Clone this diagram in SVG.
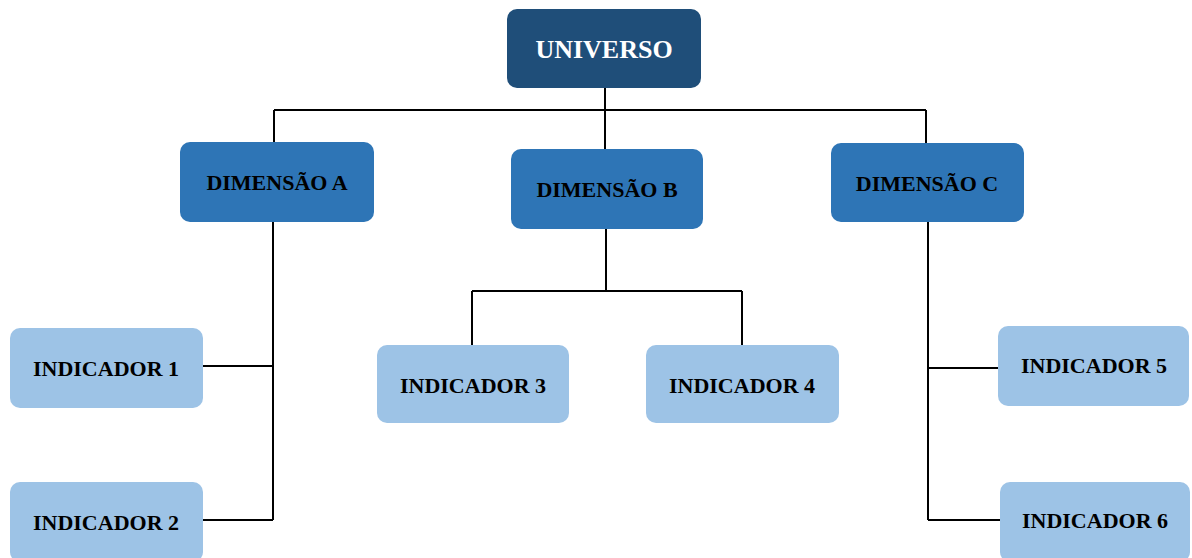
<svg xmlns="http://www.w3.org/2000/svg" width="1192" height="558" viewBox="0 0 1192 558">
<style>
.t{font-family:"Liberation Serif","Times New Roman",serif;font-weight:bold;text-anchor:middle}
.lbl{font-size:22px;fill:#000}
.top{font-size:26px;fill:#fff}
.u{fill:#1f4e79}
.d{fill:#2e75b6}
.i{fill:#9dc3e6}
.c{fill:none;stroke:#000;stroke-width:2}
</style>
<rect width="1192" height="558" fill="#fff"/>
<g id="connectors">
<path class="c" d="M605 88V110M274 110H926M274 110V142M605 110V149M926 110V143"/>
<path class="c" d="M273 222V520M203 366H273M203 520H273"/>
<path class="c" d="M606 229V291M472 291H742M472 291V345M742 291V345"/>
<path class="c" d="M928 222V520M928 368H998M928 520H1000"/>
</g>
<g id="universo"><rect class="u" x="507" y="9" width="194" height="79" rx="10"/><text class="t top" x="604" y="58">UNIVERSO</text></g>
<g id="dimA"><rect class="d" x="180" y="142" width="194" height="80" rx="10"/><text class="t lbl" x="277" y="190">DIMENSÃO A</text></g>
<g id="dimB"><rect class="d" x="511" y="149" width="192" height="80" rx="10"/><text class="t lbl" x="607" y="197">DIMENSÃO B</text></g>
<g id="dimC"><rect class="d" x="831" y="143" width="193" height="79" rx="10"/><text class="t lbl" x="927" y="191">DIMENSÃO C</text></g>
<g id="ind1"><rect class="i" x="10" y="328" width="193" height="80" rx="10"/><text class="t lbl" x="106" y="376">INDICADOR 1</text></g>
<g id="ind2"><rect class="i" x="10" y="482" width="193" height="80" rx="10"/><text class="t lbl" x="106" y="530">INDICADOR 2</text></g>
<g id="ind3"><rect class="i" x="377" y="345" width="192" height="78" rx="10"/><text class="t lbl" x="473" y="393">INDICADOR 3</text></g>
<g id="ind4"><rect class="i" x="646" y="345" width="193" height="78" rx="10"/><text class="t lbl" x="742" y="393">INDICADOR 4</text></g>
<g id="ind5"><rect class="i" x="998" y="326" width="191" height="80" rx="10"/><text class="t lbl" x="1094" y="373">INDICADOR 5</text></g>
<g id="ind6"><rect class="i" x="1000" y="482" width="190" height="80" rx="10"/><text class="t lbl" x="1095" y="528">INDICADOR 6</text></g>
</svg>
